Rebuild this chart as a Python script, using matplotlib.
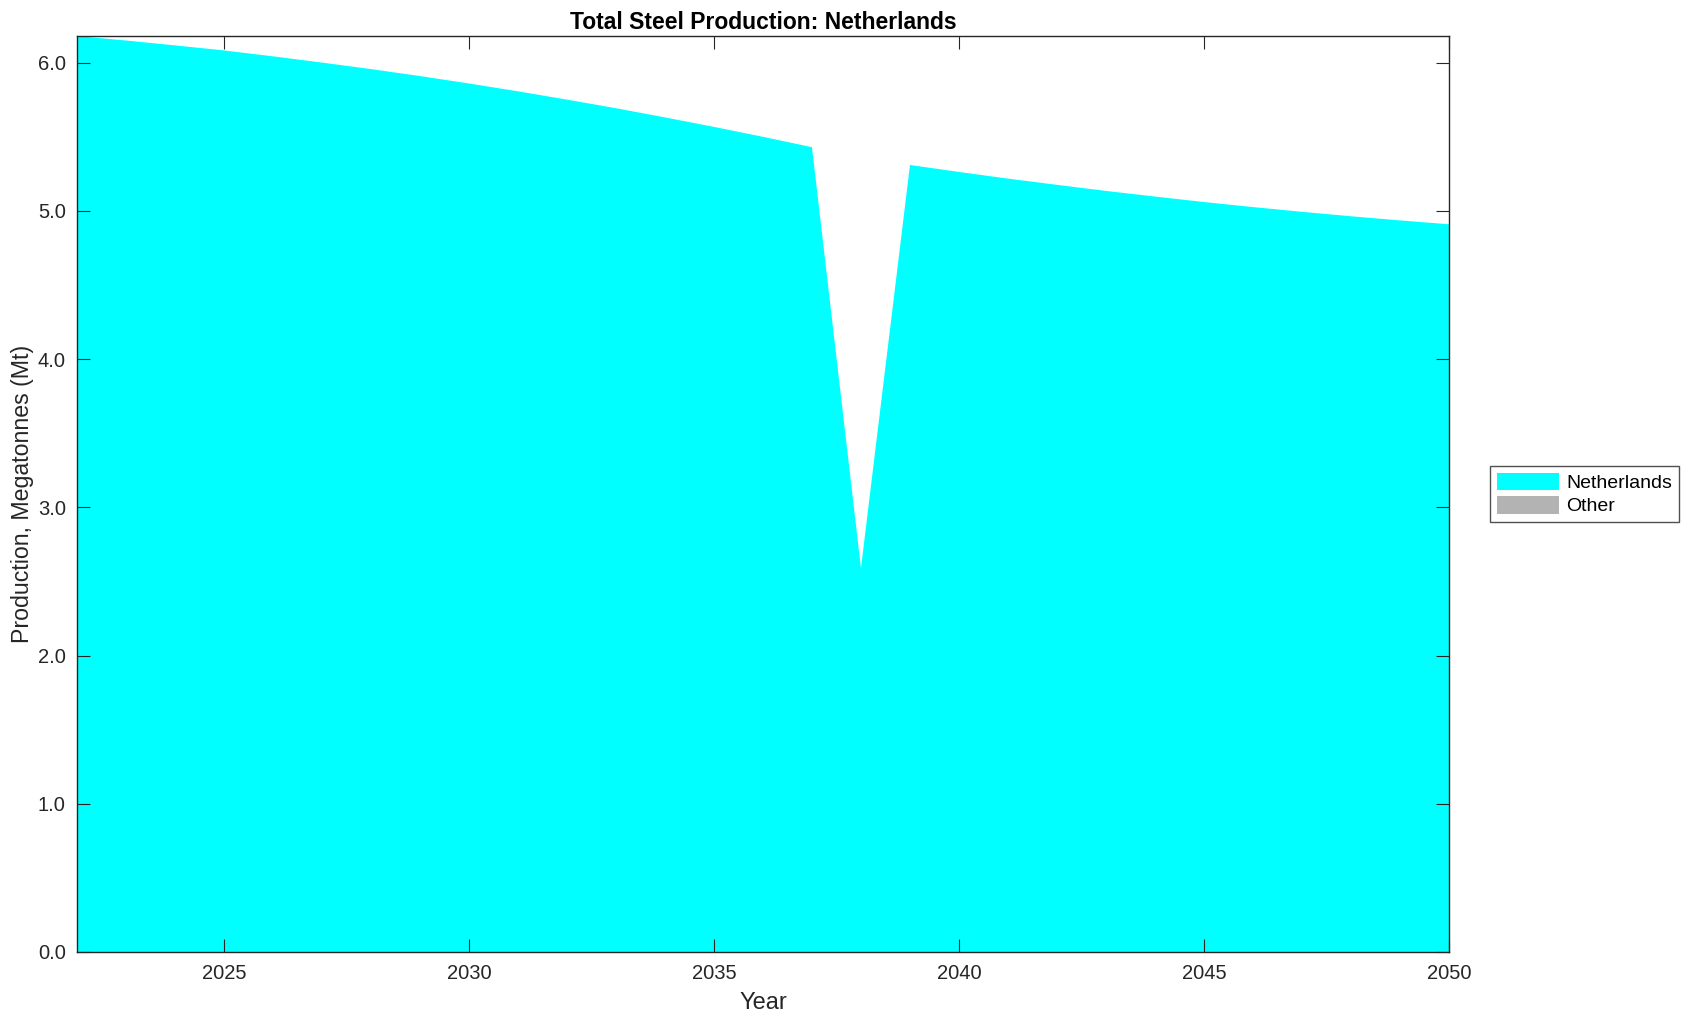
import matplotlib.pyplot as plt
from matplotlib.ticker import FormatStrFormatter
import numpy as np

years = np.arange(2022, 2051)
netherlands = [6.180, 6.150, 6.117, 6.083, 6.043, 6.001, 5.957, 5.910, 5.860, 5.807,
               5.751, 5.693, 5.631, 5.567, 5.500, 5.430, 2.590, 5.310, 5.263, 5.218,
               5.176, 5.135, 5.097, 5.060, 5.026, 4.994, 4.964, 4.936, 4.910]
other = [0.0] * len(years)
labels = ["Netherlands", "Other"]
colors = ["#00ffff", "#b3b3b3"]

plt.rcParams['font.family'] = ['Liberation Sans', 'DejaVu Sans']

fig = plt.figure(figsize=(16.88, 10.21), dpi=100)
ax = fig.add_axes([0.0456, 0.0676, 0.8128, 0.8971])

ax.stackplot(years, netherlands, other, colors=colors, labels=labels, linewidth=0)

total = np.array(netherlands) + np.array(other)
ax.set_xlim(years[0], years[-1])
ax.set_ylim(0, total.max())
ax.set_xticks(np.arange(2025, 2051, 5))
ax.set_yticks(np.arange(0, 6.1, 1.0))
ax.yaxis.set_major_formatter(FormatStrFormatter('%.1f'))

ax.tick_params(direction='in', top=True, right=True, length=9.5, width=0.8,
               labelsize=14.5, colors='#262626', pad=8)
ax.tick_params(axis='x', pad=9)
for s in ax.spines.values():
    s.set_color('#262626')
    s.set_linewidth(1.0)
ax.set_axisbelow(False)

ax.set_title("Total Steel Production: Netherlands", fontsize=16.5, fontweight='bold', pad=5)
ax.set_xlabel("Year", fontsize=17, color='#262626', labelpad=6)
ax.set_ylabel("Production, Megatonnes (Mt)", fontsize=16.7, color='#262626', labelpad=3)

leg = fig.legend(loc='center', bbox_to_anchor=(0.9387, 0.516), fontsize=14,
                 frameon=True, fancybox=False, edgecolor='#262626',
                 handlelength=3.2, handleheight=1.0, handletextpad=0.4,
                 labelspacing=0.2, borderpad=0.35)
leg.get_frame().set_linewidth(1.0)

fig.savefig("out.png", dpi=100)
